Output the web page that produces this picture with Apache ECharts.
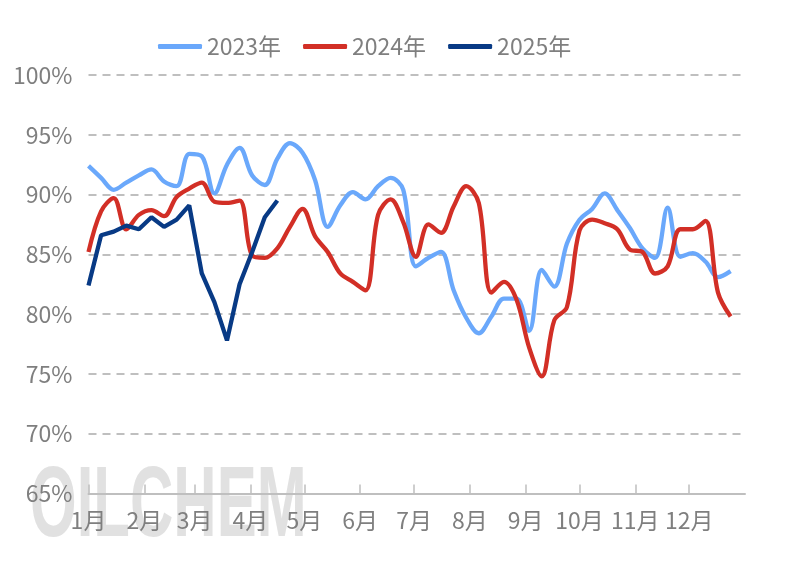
<!DOCTYPE html>
<html>
<head>
<meta charset="utf-8">
<script src="https://cdn.jsdelivr.net/npm/echarts@6/dist/echarts.min.js"></script>
<style>
html,body{margin:0;padding:0;background:#fff;}
#chart{width:785px;height:575px;}
</style>
</head>
<body>
<div id="chart"></div>
<script>
const monthLabels = ['1月','2月','3月','4月','5月','6月','7月','8月','9月','10月','11月','12月'];
const monthStartDays = [0,31,59,90,120,151,181,212,243,273,304,334];
const weekDays = [0,7,14,21,28,35,42,49,56,63,70,77,84,91,98,105,112,119,126,133,140,147,154,161,168,175,182,189,196,203,210,217,224,231,238,245,252,259,266,273,280,287,294,301,308,315,322,329,336,343,350,357];
const yTicks = [65,70,75,80,85,90,95,100];
const seriesNames = ['2023年','2024年','2025年'];

const v2023 = [92.4,91.4,90.4,91.0,91.6,92.1,91.1,90.7,93.4,93.2,90.1,92.5,93.9,91.6,90.8,93.0,94.3,93.5,91.2,87.3,89.1,90.2,89.6,90.7,91.4,90.4,84.0,84.7,85.2,82.0,79.7,78.4,79.8,81.3,81.3,78.6,83.7,82.3,85.9,87.9,88.8,90.1,88.7,87.2,85.5,84.7,88.9,84.8,85.1,84.4,83.1,83.6];
const v2024 = [85.2,88.6,89.7,87.1,88.3,88.7,88.2,89.8,90.5,91.0,89.4,89.3,89.5,84.9,84.7,85.5,87.3,88.8,86.5,85.2,83.4,82.7,82.0,88.3,89.6,87.7,84.8,87.5,86.8,89.0,90.7,89.3,81.8,82.7,81.2,77.2,74.8,79.5,80.6,87.0,87.9,87.6,87.1,85.4,85.2,83.4,84.0,87.1,87.1,87.8,81.8,79.8];
const v2025 = [82.4,86.6,86.9,87.4,87.1,88.1,87.3,87.9,89.1,83.4,81.0,77.8,82.5,85.2,88.1,89.5];

const pair = (vals) => vals.map((v, i) => [weekDays[i], v]);
const FONT = '"Noto Sans CJK SC", "Noto Sans", sans-serif';
const TXT = '#7f7f7f';
const LINE = '#bfbfbf';

const chart = echarts.init(document.getElementById('chart'), null, {renderer: 'canvas'});
chart.setOption({
  animation: false,
  backgroundColor: '#ffffff',
  textStyle: {fontFamily: FONT},
  graphic: {
    elements: [{
      type: 'text',
      x: 30,
      y: 458,
      z: -10,
      silent: true,
      scaleX: 0.6,
      style: {
        text: 'OILCHEM',
        font: 'bold 100px "Liberation Sans Narrow", "Liberation Sans", sans-serif',
        fill: 'rgba(205,205,205,0.6)'
      }
    }]
  },
  legend: {
    top: 30,
    left: 153,
    itemWidth: 44,
    itemHeight: 5,
    itemGap: 22,
    icon: 'roundRect',
    textStyle: {fontSize: 23, color: TXT, fontFamily: FONT},
    data: seriesNames
  },
  grid: {left: 88.5, right: 40, top: 75, bottom: 81.5, containLabel: false},
  xAxis: {
    type: 'value',
    min: 0,
    max: 365,
    splitLine: {show: false},
    axisLine: {show: true, lineStyle: {color: LINE, width: 2}},
    axisTick: {show: true, inside: true, length: 9, customValues: monthStartDays, lineStyle: {color: LINE, width: 1.5}},
    axisLabel: {
      customValues: monthStartDays,
      formatter: (val) => monthLabels[monthStartDays.indexOf(val)] || '',
      fontSize: 23, color: TXT, margin: 15, fontFamily: FONT
    }
  },
  yAxis: {
    type: 'value',
    min: yTicks[0],
    max: yTicks[yTicks.length - 1],
    interval: 5,
    axisLine: {show: false},
    axisTick: {show: false},
    axisLabel: {formatter: '{value}%', fontSize: 23, color: TXT, margin: 16, fontFamily: FONT},
    splitLine: {show: true, lineStyle: {color: LINE, width: 2, type: [8, 6]}}
  },
  series: [
    {name: seriesNames[0], type: 'line', data: pair(v2023), smooth: 0.35, showSymbol: false, symbol: 'none',
     lineStyle: {color: '#6aa8fb', width: 4.3}, itemStyle: {color: '#6aa8fb'}, z: 3},
    {name: seriesNames[1], type: 'line', data: pair(v2024), smooth: 0.35, showSymbol: false, symbol: 'none',
     lineStyle: {color: '#d22f26', width: 4.3}, itemStyle: {color: '#d22f26'}, z: 4},
    {name: seriesNames[2], type: 'line', data: pair(v2025), smooth: false, showSymbol: false, symbol: 'none',
     lineStyle: {color: '#083a85', width: 4.3}, itemStyle: {color: '#083a85'}, z: 5}
  ]
});
</script>
</body>
</html>
